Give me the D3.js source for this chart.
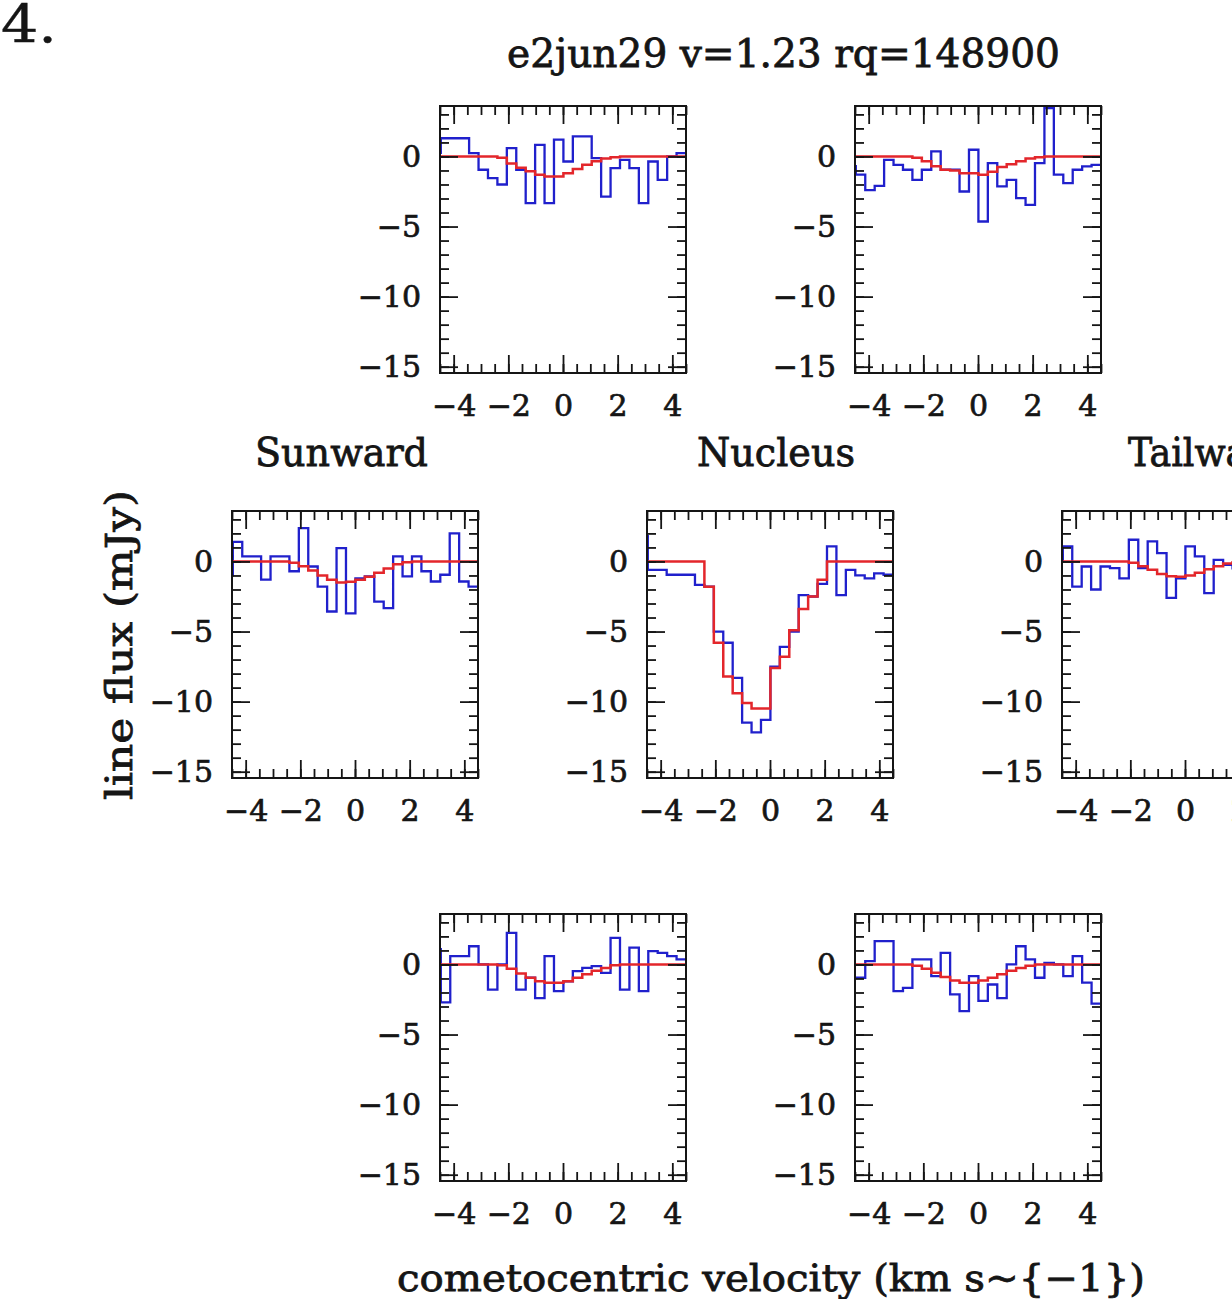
<!DOCTYPE html>
<html>
<head>
<meta charset="utf-8">
<script src="https://cdn.jsdelivr.net/npm/d3@7"></script>
<style>
  body { margin: 0; background: #fff; }
  svg { display: block; }
</style>
</head>
<body>
<svg id="fig" width="1232" height="1299"></svg>
<script>
// Channel centres (km/s); the first one sits just outside the plotted range.
const velocity = [-4.64, -4.30, -3.95, -3.61, -3.26, -2.92, -2.57, -2.23, -1.88, -1.54,
                  -1.19, -0.85, -0.50, -0.16, 0.19, 0.53, 0.88, 1.22, 1.57, 1.91,
                  2.26, 2.60, 2.95, 3.29, 3.64, 3.98, 4.33];

const velTicks = [-4, -2, 0, 2, 4];
const fluxTicks = [0, -5, -10, -15];

// Observed spectra (mJy) and model fits for each beam position
const upLeftObs  = [0.25, 1.3, 1.3, 1.3, 0.24, -0.95, -1.55, -2.0, 0.6, -0.95, -3.33, 0.83, -3.33, 1.2,
                    -0.36, 1.43, 1.43, -0.12, -2.86, -0.83, -0.24, -0.83, -3.33, -0.36, -1.67, 0.0, 0.24];
const upLeftFit  = [0, 0, 0, 0, 0, 0, 0, -0.1, -0.5, -0.8, -1.05, -1.3, -1.43, -1.43,
                    -1.2, -0.9, -0.6, -0.35, -0.15, -0.05, 0, 0, 0, 0, 0, 0, 0];

const upRightObs = [-0.7, -1.3, -2.4, -2.1, -0.24, -0.6, -0.95, -1.67, -0.95, 0.36, -0.95, -0.95, -2.5, 0.48,
                    -4.64, -0.48, -2.14, -1.67, -2.98, -3.45, -0.48, 3.45, -1.3, -1.9, -0.95, -0.71, -0.6];
const upRightFit = [0, 0, 0, 0, 0, 0, 0, -0.1, -0.35, -0.7, -0.95, -1.0, -1.2, -1.2,
                    -1.3, -1.1, -0.75, -0.55, -0.35, -0.15, -0.05, 0, 0, 0, 0, 0, 0];

const sunwardObs = [-1.0, 1.4, 0.36, 0.36, -1.3, 0.36, 0.36, -0.7, 2.38, -0.36, -1.8, -3.57, 0.95, -3.7,
                    -1.2, -1.07, -2.86, -3.33, 0.36, -1.07, 0.36, -0.7, -1.43, -0.95, 2.0, -1.43, -1.8];
const sunwardFit = [0, 0, 0, 0, 0, 0, 0, -0.1, -0.35, -0.65, -1.0, -1.3, -1.5, -1.45,
                    -1.3, -1.1, -0.8, -0.5, -0.2, -0.05, 0, 0, 0, 0, 0, 0, 0];

const nucleusObs = [1.8, -0.6, -0.6, -0.95, -0.95, -0.95, -1.67, -1.8, -5.0, -5.8, -8.3, -11.5, -12.2, -11.3,
                    -7.5, -6.1, -5.0, -2.4, -2.5, -1.6, 1.07, -2.4, -0.6, -1.0, -1.2, -0.85, -0.95];
const nucleusFit = [0, 0, 0, 0, 0, 0, 0, -1.8, -5.8, -8.2, -9.4, -10.1, -10.5, -10.5,
                    -7.6, -6.8, -4.9, -3.4, -2.5, -1.3, 0, 0, 0, 0, 0, 0, 0];

const tailwardObs = [0.0, 1.07, -1.8, -0.36, -2.0, -0.36, -0.48, -1.2, 1.55, -0.48, 1.43, 0.6, -2.6, -1.2,
                     1.07, 0.36, -2.26, 0.12, -0.24, -0.5, 0.4, -1.0, -0.3, 0.8, -1.5, -0.2, 0.3];
const tailwardFit = [0, 0, 0, 0, 0, 0, 0, 0, -0.1, -0.35, -0.6, -0.9, -1.05, -1.1,
                     -1.0, -0.8, -0.55, -0.35, -0.15, -0.05, 0, 0, 0, 0, 0, 0, 0];

const lowLeftObs = [1.1, -2.7, 0.6, 0.6, 1.3, 0.0, -1.8, 0.0, 2.26, -1.8, -0.95, -2.4, 0.6, -1.9,
                    -1.2, -0.48, -0.24, -0.12, -0.6, 1.9, -1.8, 1.2, -1.9, 0.95, 0.83, 0.6, 0.36];
const lowLeftFit = [0, 0, 0, 0, 0, 0, 0, -0.05, -0.3, -0.65, -0.95, -1.2, -1.3, -1.3,
                    -1.2, -0.95, -0.7, -0.45, -0.25, -0.05, 0, 0, 0, 0, 0, 0, 0];

const lowRightObs = [-0.95, -0.95, 0.24, 1.67, 1.67, -1.9, -1.67, 0.36, 0.36, -0.83, 0.83, -2.14, -3.33, -0.83,
                     -2.6, -1.43, -2.4, 0.0, 1.3, 0.36, -0.95, 0.12, 0.0, -0.83, 0.6, -1.3, -2.8];
const lowRightFit = [0, 0, 0, 0, 0, 0, 0, -0.1, -0.3, -0.6, -0.9, -1.15, -1.3, -1.3,
                     -1.15, -0.95, -0.7, -0.45, -0.25, -0.1, 0, 0, 0, 0, 0, 0, 0];

const panels = [
  { left: 440,  top: 106, obs: upLeftObs,   fit: upLeftFit },
  { left: 855,  top: 106, obs: upRightObs,  fit: upRightFit },
  { left: 232,  top: 511, obs: sunwardObs,  fit: sunwardFit },
  { left: 647,  top: 511, obs: nucleusObs,  fit: nucleusFit },
  { left: 1062, top: 511, obs: tailwardObs, fit: tailwardFit },
  { left: 440,  top: 914, obs: lowLeftObs,  fit: lowLeftFit },
  { left: 855,  top: 914, obs: lowRightObs, fit: lowRightFit }
];

const W = 246, H = 267;
const BLUE = "#2020cc", RED = "#e3262b";
const INK = "#151515";
const FONT = "'DejaVu Serif', 'Liberation Serif', serif";

const svg = d3.select("#fig");
const x = d3.scaleLinear().domain([-4.5, 4.5]).range([0, W]);
const y = d3.scaleLinear().domain([-15.45, 3.6]).range([H, 0]);

// histogram bin edges from the channel centres
const n = velocity.length;
const edges = velocity.map((v, i) => i === 0 ? v - (velocity[1] - velocity[0]) / 2 : (velocity[i - 1] + v) / 2);
edges.push(velocity[n - 1] + (velocity[n - 1] - velocity[n - 2]) / 2);

function stepPoints(vals) {
  const pts = [];
  vals.forEach((f, i) => { pts.push([edges[i], f]); pts.push([edges[i + 1], f]); });
  return pts;
}
const line = d3.line().x(d => x(d[0])).y(d => y(d[1]));

const fmt = t => String(t).replace("-", "\u2212");
const minorV = d3.range(-4.5, 4.51, 0.5);
const minorF = d3.range(-15, 4, 1);

// slightly heavier lettering
function ink(sel, w) {
  return sel.attr("fill", INK).attr("stroke", INK).attr("stroke-width", w).attr("paint-order", "stroke");
}

function styleAxis(g) {
  g.select(".domain").remove();
  g.selectAll("line").attr("stroke", INK).attr("stroke-width", 1.8);
  g.selectAll("text").attr("font-family", FONT).attr("font-size", 30).call(ink, 0.7);
  g.attr("font-family", null).attr("font-size", null);
}

panels.forEach((p, idx) => {
  const g = svg.append("g").attr("transform", `translate(${p.left},${p.top})`);
  const clipId = "plotclip" + idx;
  g.append("clipPath").attr("id", clipId).append("rect").attr("width", W).attr("height", H);
  const plot = g.append("g").attr("clip-path", `url(#${clipId})`);

  plot.append("path").attr("d", line(stepPoints(p.obs)))
    .attr("fill", "none").attr("stroke", BLUE).attr("stroke-width", 2.3);
  plot.append("path").attr("d", line(stepPoints(p.fit)))
    .attr("fill", "none").attr("stroke", RED).attr("stroke-width", 2.5);

  // minor ticks on all four sides
  g.append("g").attr("transform", `translate(0,${H})`)
    .call(d3.axisBottom(x).tickValues(minorV).tickSize(-9).tickFormat("")).call(styleAxis);
  g.append("g")
    .call(d3.axisTop(x).tickValues(minorV).tickSize(-9).tickFormat("")).call(styleAxis);
  g.append("g")
    .call(d3.axisLeft(y).tickValues(minorF).tickSize(-9).tickFormat("")).call(styleAxis);
  g.append("g").attr("transform", `translate(${W},0)`)
    .call(d3.axisRight(y).tickValues(minorF).tickSize(-9).tickFormat("")).call(styleAxis);

  // major ticks with labels
  g.append("g").attr("transform", `translate(0,${H})`)
    .call(d3.axisBottom(x).tickValues(velTicks).tickSize(-18).tickPadding(22).tickFormat(fmt))
    .call(styleAxis);
  g.append("g")
    .call(d3.axisTop(x).tickValues(velTicks).tickSize(-18).tickFormat("")).call(styleAxis);
  g.append("g")
    .call(d3.axisLeft(y).tickValues(fluxTicks).tickSize(-18).tickPadding(19).tickFormat(fmt))
    .call(styleAxis);
  g.append("g").attr("transform", `translate(${W},0)`)
    .call(d3.axisRight(y).tickValues(fluxTicks).tickSize(-18).tickFormat("")).call(styleAxis);

  g.append("rect").attr("width", W).attr("height", H)
    .attr("fill", "none").attr("stroke", INK).attr("stroke-width", 2);
});

// figure texts
svg.append("text").attr("x", 1).attr("y", 42)
  .attr("font-family", FONT).attr("font-size", 53)
  .attr("textLength", 56).attr("lengthAdjust", "spacingAndGlyphs")
  .call(ink, 0.4).text("4.");

svg.append("text").attr("x", 507).attr("y", 67)
  .attr("font-family", FONT).attr("font-size", 40)
  .attr("textLength", 553).attr("lengthAdjust", "spacingAndGlyphs")
  .call(ink, 0.8)
  .text("e2jun29  v=1.23  rq=148900");

const sectionLabels = [
  { text: "Sunward", x: 255, len: 173 },
  { text: "Nucleus", x: 697, len: 158 },
  { text: "Tailward", x: 1128, len: 160 }
];
svg.selectAll("text.section").data(sectionLabels).join("text")
  .attr("class", "section")
  .attr("x", d => d.x).attr("y", 466)
  .attr("font-family", FONT).attr("font-size", 39)
  .attr("textLength", d => d.len).attr("lengthAdjust", "spacingAndGlyphs")
  .call(ink, 0.8)
  .text(d => d.text);

svg.append("text")
  .attr("transform", "translate(132,645) rotate(-90)")
  .attr("text-anchor", "middle")
  .attr("font-family", FONT).attr("font-size", 38)
  .attr("textLength", 310).attr("lengthAdjust", "spacingAndGlyphs")
  .call(ink, 0.8)
  .text("line flux (mJy)");

svg.append("text")
  .attr("x", 397).attr("y", 1291)
  .attr("font-family", FONT).attr("font-size", 38)
  .attr("textLength", 748).attr("lengthAdjust", "spacingAndGlyphs")
  .call(ink, 0.8)
  .text("cometocentric velocity (km s~{\u22121})");
</script>
</body>
</html>
